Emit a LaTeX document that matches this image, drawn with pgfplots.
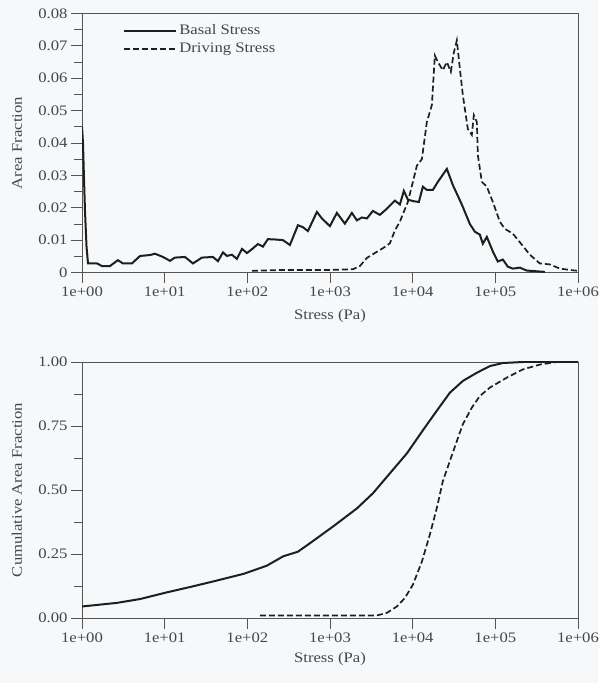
\documentclass[border=0pt]{standalone}
\usepackage{pgfplots}
\pgfplotsset{compat=1.18}
\usepackage{fontspec}
\setmainfont[FakeStretch=1.15]{Liberation Serif}
\newcommand\myf{\fontsize{14.5}{17}\selectfont}
\definecolor{bg}{RGB}{246,248,250}
\definecolor{ln}{RGB}{30,30,30}
\definecolor{ax}{RGB}{85,85,85}
\definecolor{tx}{RGB}{70,70,70}

\begin{document}
\begin{tikzpicture}
\fill[bg] (0,0) rectangle (598pt,683pt);
\useasboundingbox (0,0) rectangle (598pt,683pt);

\begin{axis}[at={(82pt,410.5pt)}, anchor=south west,
  scale only axis, width=496pt, height=259pt,
  xmode=log, xmin=1, xmax=1e6,
  xtick={1,10,100,1000,10000,100000,1000000},
  xticklabels={1e+00,1e+01,1e+02,1e+03,1e+04,1e+05,1e+06},
  xminorticks=false, scaled y ticks=false,
  tick align=outside, major tick length=11pt, minor tick length=8pt,
  xtick pos=left, ytick pos=left,
  axis line style={ax, line width=0.8pt},
  every tick/.style={ax, line width=0.8pt},
  tick label style={font=\myf, text=tx},
  every axis y label/.style={at={(axis description cs:-0.131,0.5)}, rotate=90, anchor=center, font=\myf, text=tx},
  every axis x label/.style={at={(axis description cs:0.5,-0.168)}, anchor=center, font=\myf, text=tx},
  ymin=0, ymax=0.08,
  ytick={0,0.01,0.02,0.03,0.04,0.05,0.06,0.07,0.08},
  yticklabels={0,0.01,0.02,0.03,0.04,0.05,0.06,0.07,0.08},
  minor y tick num=1,
  ylabel={Area Fraction}, xlabel={Stress (Pa)},
  legend style={draw=none, fill=none, at={(0.083,0.965)}, anchor=north west,
    font=\myf, text=tx, inner sep=0pt, row sep=3pt},
  legend cell align=left,
  legend image code/.code={\draw[#1] (0pt,0pt) -- (52pt,0pt);},
]
\addplot[ln, line width=2pt] table {
1 0.045
1.028 0.040
1.057 0.029
1.087 0.019
1.134 0.008
1.182 0.0028
1.518 0.0028
1.745 0.002
2.18 0.002
2.72 0.0038
3.13 0.0028
4.02 0.0028
5.03 0.0051
6.64 0.0054
7.63 0.0058
9.54 0.0048
11.6 0.0036
13.3 0.0046
17.6 0.0048
22.0 0.0028
28.2 0.0046
38.4 0.0048
44.1 0.0035
50.7 0.0062
56.7 0.0051
65.1 0.0055
74.8 0.0042
86.1 0.0073
98.9 0.0060
113.7 0.0072
134.4 0.0088
154.4 0.0080
177.5 0.0103
215.7 0.0102
269.5 0.0100
327.5 0.0085
409.2 0.0146
470.2 0.0140
540.5 0.0128
694.4 0.0187
798.3 0.0167
997.2 0.0143
1211 0.0184
1514 0.0151
1840 0.0184
2115 0.0161
2431 0.0170
2794 0.0167
3302 0.0190
4012 0.0178
4875 0.0197
6093 0.0222
7002 0.0210
7828 0.0252
8750 0.0225
10340 0.0220
11885 0.0218
13285 0.0265
14850 0.0255
17550 0.0255
20170 0.0280
25920 0.0320
30630 0.0270
39340 0.0210
49170 0.0150
56510 0.0126
64940 0.0117
70610 0.0089
78920 0.0110
93270 0.0065
107200 0.0034
123200 0.0040
141600 0.0018
162800 0.0012
197800 0.0015
240400 0.0006
345300 0.0003
396800 0.0002
};
\addplot[ln, line width=1.7pt, dash pattern=on 6pt off 3pt] table {
113.7 0.0005
284.9 0.0008
997 0.0008
1892 0.0010
2299 0.0020
2794 0.0045
3691 0.0064
4362 0.0075
5300 0.0090
6093 0.0130
7002 0.0157
8750 0.0218
10060 0.0280
11240 0.0330
12920 0.0350
14850 0.0465
17070 0.0517
18550 0.0670
20170 0.0650
23190 0.0625
25920 0.0650
28960 0.0620
31500 0.0680
34230 0.0717
37220 0.0630
40460 0.0548
46500 0.0443
51980 0.0425
54950 0.0486
59750 0.0465
61430 0.0363
68670 0.0280
78920 0.0265
93270 0.0218
113300 0.0157
130300 0.0135
162800 0.0120
209200 0.0086
261300 0.0055
345300 0.0028
456000 0.0025
602600 0.0012
795600 0.0008
1000000 0.0005
};
\legend{Basal Stress, Driving Stress}
\end{axis}

\begin{axis}[at={(82pt,65pt)}, anchor=south west,
  scale only axis, width=496pt, height=256pt,
  xmode=log, xmin=1, xmax=1e6,
  xtick={1,10,100,1000,10000,100000,1000000},
  xticklabels={1e+00,1e+01,1e+02,1e+03,1e+04,1e+05,1e+06},
  xminorticks=false, scaled y ticks=false,
  tick align=outside, major tick length=11pt, minor tick length=8pt,
  xtick pos=left, ytick pos=left,
  axis line style={ax, line width=0.8pt},
  every tick/.style={ax, line width=0.8pt},
  tick label style={font=\myf, text=tx},
  every axis y label/.style={at={(axis description cs:-0.131,0.5)}, rotate=90, anchor=center, font=\myf, text=tx},
  every axis x label/.style={at={(axis description cs:0.5,-0.16)}, anchor=center, font=\myf, text=tx},
  ymin=0, ymax=1,
  ytick={0,0.25,0.5,0.75,1},
  yticklabels={0.00,0.25,0.50,0.75,1.00},
  minor y tick num=1,
  ylabel={Cumulative Area Fraction}, xlabel={Stress (Pa)},
]
\addplot[ln, line width=2pt] table {
1 0.045
2.63 0.059
5.03 0.074
10.57 0.100
22.2 0.124
42.5 0.146
89.2 0.172
171.2 0.204
271.8 0.241
409.2 0.259
571.5 0.292
1084 0.357
2115 0.428
3302 0.487
5300 0.565
8511 0.643
13285 0.733
19620 0.810
28180 0.880
40460 0.926
59750 0.958
85810 0.984
123200 0.996
215100 1.000
1000000 1.000
};
\addplot[ln, line width=1.7pt, dash pattern=on 6pt off 3pt] table {
142.1 0.010
3691 0.010
4875 0.020
6440 0.045
8048 0.078
10060 0.130
12920 0.220
16140 0.326
19620 0.430
23190 0.535
28180 0.613
34230 0.691
40460 0.757
51980 0.822
64940 0.867
85810 0.900
137700 0.939
215100 0.971
345300 0.990
554000 1.000
1000000 1.000
};
\end{axis}
\end{tikzpicture}
\end{document}
